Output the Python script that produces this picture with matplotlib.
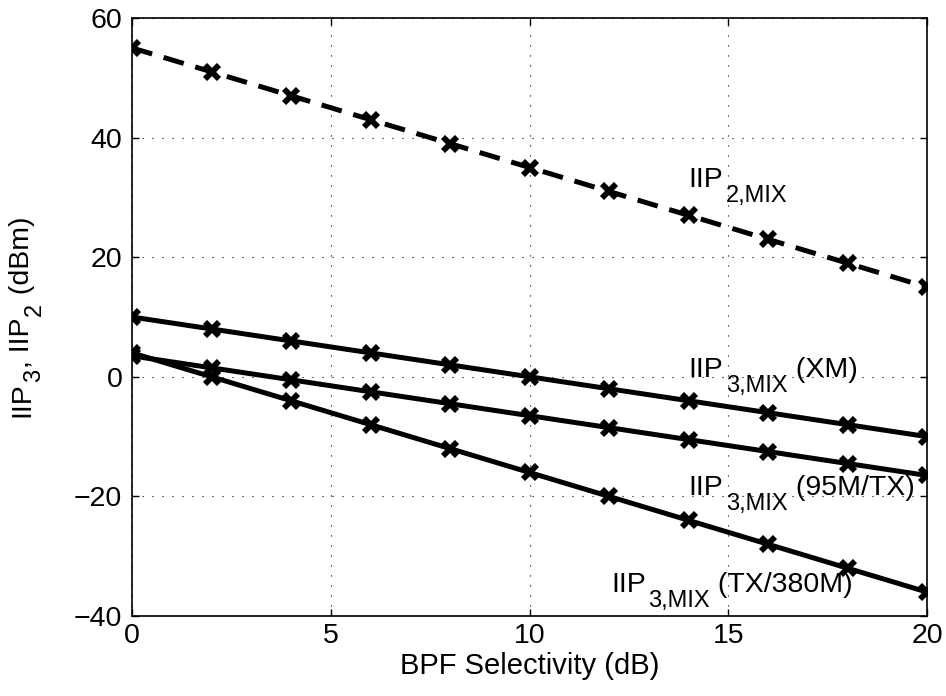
import matplotlib
matplotlib.use("Agg")
import matplotlib.pyplot as plt
import numpy as np

plt.rcParams['font.family'] = ['Liberation Sans', 'DejaVu Sans']

selectivity = [0, 2, 4, 6, 8, 10, 12, 14, 16, 18, 20]
iip2_mix = [55, 51, 47, 43, 39, 35, 31, 27, 23, 19, 15]
iip3_xm = [10, 8, 6, 4, 2, 0, -2, -4, -6, -8, -10]
iip3_95m_tx = [3.5, 1.5, -0.5, -2.5, -4.5, -6.5, -8.5, -10.5, -12.5, -14.5, -16.5]
iip3_tx_380m = [4, 0, -4, -8, -12, -16, -20, -24, -28, -32, -36]

x_ticks = [0, 5, 10, 15, 20]
y_ticks = [-40, -20, 0, 20, 40, 60]

# label text pieces: (main, subscript, rest) and anchor (data x, baseline y)
labels = [
    (("IIP", "2,MIX", ""), (14.0, 31.8)),
    (("IIP", "3,MIX", " (XM)"), (14.0, 0.0)),
    (("IIP", "3,MIX", " (95M/TX)"), (14.0, -19.8)),
    (("IIP", "3,MIX", " (TX/380M)"), (12.05, -36.0)),
]

FS = 20.5
SUB = 17.0

fig = plt.figure(figsize=(9.46, 6.96), dpi=100)
ax = fig.add_axes([132/946, 1 - 616/696, (927-132)/946, (616-18)/696])

mk = dict(marker='x', markersize=10.5, markeredgewidth=4.2, color='black', linewidth=3.6)
ax.plot(selectivity, iip2_mix, linestyle=(0, (4.2, 2.4)), **mk)
ax.plot(selectivity, iip3_xm, linestyle='-', **mk)
ax.plot(selectivity, iip3_95m_tx, linestyle='-', **mk)
ax.plot(selectivity, iip3_tx_380m, linestyle='-', **mk)

ax.set_xlim(0, 20)
ax.set_ylim(-40, 60)
ax.set_xticks(x_ticks)
ax.set_yticks(y_ticks)
ax.set_xticklabels([str(v) for v in x_ticks])
ax.set_yticklabels([str(v).replace('-', '\u2212') for v in y_ticks])
ax.grid(True, linestyle=(0, (1, 8)), color='black', linewidth=0.8)
ax.tick_params(direction='in', labelsize=FS, length=5, width=1, top=True, right=True)
ax.tick_params(axis='x', pad=5)
ax.tick_params(axis='y', pad=7)
for s in ax.spines.values():
    s.set_linewidth(1.2)

DROP = 11.0  # subscript baseline drop, points

for (main, sub, rest), (lx, ly) in labels:
    t_main = ax.text(lx, ly, main, fontsize=FS, ha='left', va='baseline')
    t_sub = ax.annotate(sub, xy=(1, 0), xycoords=t_main, xytext=(2, -DROP + 1.0),
                        textcoords='offset points', fontsize=SUB, ha='left', va='bottom')
    if rest:
        ax.annotate(rest, xy=(1, 0), xycoords=(t_sub, t_main), xytext=(0, 0),
                    textcoords='offset points', fontsize=FS, ha='left', va='bottom')

# x label
ax.set_xlabel('BPF Selectivity (dB)', fontsize=FS + 0.5, labelpad=2)

# y label built from pieces (rotated), main baseline at x ~ 35px
ylab_x = 35 / 946
t1 = fig.text(ylab_x, 0.5, "IIP", fontsize=FS, rotation=90, ha='right', va='bottom')
t2 = fig.text(0, 0, "3", fontsize=SUB, rotation=90, ha='right', va='bottom')
t3 = fig.text(0, 0, ", IIP", fontsize=FS, rotation=90, ha='right', va='bottom')
t4 = fig.text(0, 0, "2", fontsize=SUB, rotation=90, ha='right', va='bottom')
t5 = fig.text(0, 0, " (dBm)", fontsize=FS, rotation=90, ha='right', va='bottom')

fig.canvas.draw()
r = fig.canvas.get_renderer()
DROP_PX = 12.0

def place_after(t, prev, sub_drop):
    bp = prev.get_window_extent(r)
    bm = t1.get_window_extent(r)
    x_px = bm.x1 + sub_drop
    y_px = bp.y1 + 1
    t.set_position(fig.transFigure.inverted().transform((x_px, y_px)))

place_after(t2, t1, DROP_PX - 1.5)
fig.canvas.draw()
place_after(t3, t2, 0)
fig.canvas.draw()
place_after(t4, t3, DROP_PX - 1.5)
fig.canvas.draw()
place_after(t5, t4, 0)
fig.canvas.draw()

# center vertically on the axes
pieces = [t1, t2, t3, t4, t5]
y0 = min(p.get_window_extent(r).y0 for p in pieces)
y1 = max(p.get_window_extent(r).y1 for p in pieces)
ax_bb = ax.get_window_extent(r)
shift = (ax_bb.y0 + ax_bb.y1) / 2 - (y0 + y1) / 2
for p in pieces:
    px, py = fig.transFigure.transform(p.get_position())
    p.set_position(fig.transFigure.inverted().transform((px, py + shift)))

fig.savefig('out.png', dpi=100)
